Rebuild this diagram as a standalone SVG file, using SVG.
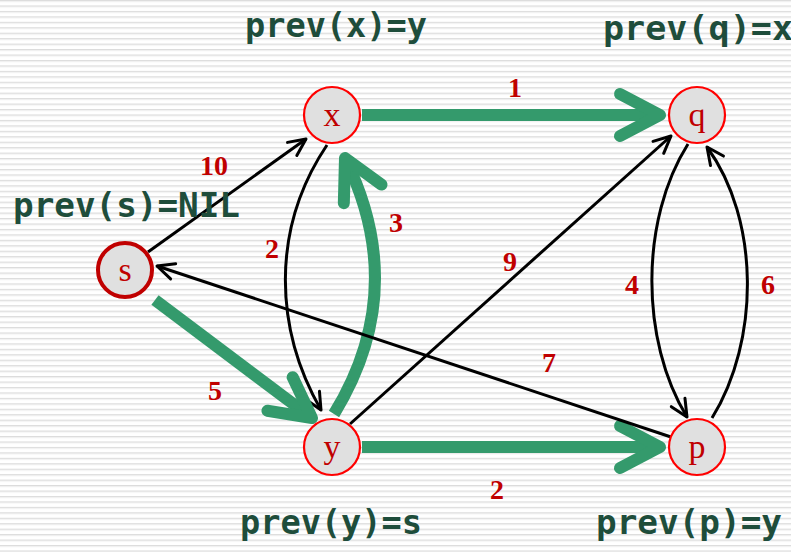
<svg xmlns="http://www.w3.org/2000/svg" width="791" height="552" viewBox="0 0 791 552">
<style>
.prev{font-family:"DejaVu Sans Mono","Liberation Mono",monospace;font-weight:bold;font-size:33px;fill:#1e4d3b}
.w{font-family:"Liberation Serif","Times New Roman",serif;font-weight:bold;font-size:28px;fill:#c00000;text-anchor:middle}
.nl{font-family:"Liberation Serif","Times New Roman",serif;font-size:34px;fill:#c00000;text-anchor:middle}
.node{fill:#e0e0e0;stroke:#ff0000;stroke-width:2.2}
.bl{fill:none;stroke:#000;stroke-width:3;marker-end:url(#bh)}
.gr{fill:none;stroke:#349a6c;stroke-width:12;marker-end:url(#gh)}
</style>
<defs>
<pattern id="stripes" patternUnits="userSpaceOnUse" width="10" height="5.45">
<rect width="10" height="5.45" fill="#ffffff"/>
<rect y="0" width="10" height="1.1" fill="#dcdcdc"/>
<rect y="1.1" width="10" height="0.9" fill="#eeeeee"/>
</pattern>
<marker id="gh" markerUnits="userSpaceOnUse" markerWidth="80" markerHeight="80" viewBox="-50 -40 80 80" refX="0" refY="0" orient="auto" overflow="visible">
<path d="M-40,-21 L0,0 L-40,21" fill="none" stroke="#349a6c" stroke-width="12" stroke-linecap="round" stroke-linejoin="round"/>
</marker>
<marker id="bh" markerUnits="userSpaceOnUse" markerWidth="40" markerHeight="40" viewBox="-20 -20 40 40" refX="0" refY="0" orient="auto" overflow="visible">
<path d="M-17,-8 L0,0 L-17,8" fill="none" stroke="#000" stroke-width="3" stroke-linecap="round" stroke-linejoin="round"/>
</marker>
</defs>
<rect width="791" height="552" fill="url(#stripes)"/>

<g id="connectors">
<path class="bl" d="M148,252 L306,139"/>
<path class="bl" d="M327,145 C270,230 275,330 321,410"/>
<path class="gr" d="M334,414 Q410,290 345,158"/>
<path class="gr" d="M155,300 L312,418"/>
<path class="gr" d="M362,115 L660,115"/>
<path class="gr" d="M362,447 L660,447"/>
<path class="bl" d="M350,424 L671,136"/>
<path class="bl" d="M671,437 L157,266"/>
<path class="bl" d="M688,144 C640,220 640,340 687,417"/>
<path class="bl" d="M712,418 C760,340 760,220 707,147"/>
</g>

<g id="weights">
<text class="w" x="214" y="175">10</text>
<text class="w" x="272" y="258">2</text>
<text class="w" x="396" y="232">3</text>
<text class="w" x="215" y="400">5</text>
<text class="w" x="515" y="97">1</text>
<text class="w" x="497" y="499">2</text>
<text class="w" x="510" y="271">9</text>
<text class="w" x="549" y="372">7</text>
<text class="w" x="632" y="294">4</text>
<text class="w" x="768" y="294">6</text>
</g>

<g id="node-s">
<circle cx="125" cy="270" r="27" fill="#e0e0e0" stroke="#c00000" stroke-width="4"/>
<text class="nl" x="125" y="281">s</text>
</g>
<g id="node-x">
<circle class="node" cx="332" cy="115" r="28"/>
<text class="nl" x="332" y="126">x</text>
</g>
<g id="node-q">
<circle class="node" cx="697" cy="115" r="28"/>
<text class="nl" x="697" y="126">q</text>
</g>
<g id="node-y">
<circle class="node" cx="332" cy="447" r="28"/>
<text class="nl" x="332" y="458">y</text>
</g>
<g id="node-p">
<circle class="node" cx="697" cy="447" r="28"/>
<text class="nl" x="697" y="458">p</text>
</g>

<g id="prev-labels">
<text class="prev" x="245" y="37" textLength="182" lengthAdjust="spacingAndGlyphs">prev(x)=y</text>
<text class="prev" x="603" y="40" textLength="190" lengthAdjust="spacingAndGlyphs">prev(q)=x</text>
<text class="prev" x="13" y="217" textLength="227" lengthAdjust="spacingAndGlyphs">prev(s)=NIL</text>
<text class="prev" x="240" y="534" textLength="182" lengthAdjust="spacingAndGlyphs">prev(y)=s</text>
<text class="prev" x="596" y="534" textLength="186" lengthAdjust="spacingAndGlyphs">prev(p)=y</text>
</g>
</svg>
